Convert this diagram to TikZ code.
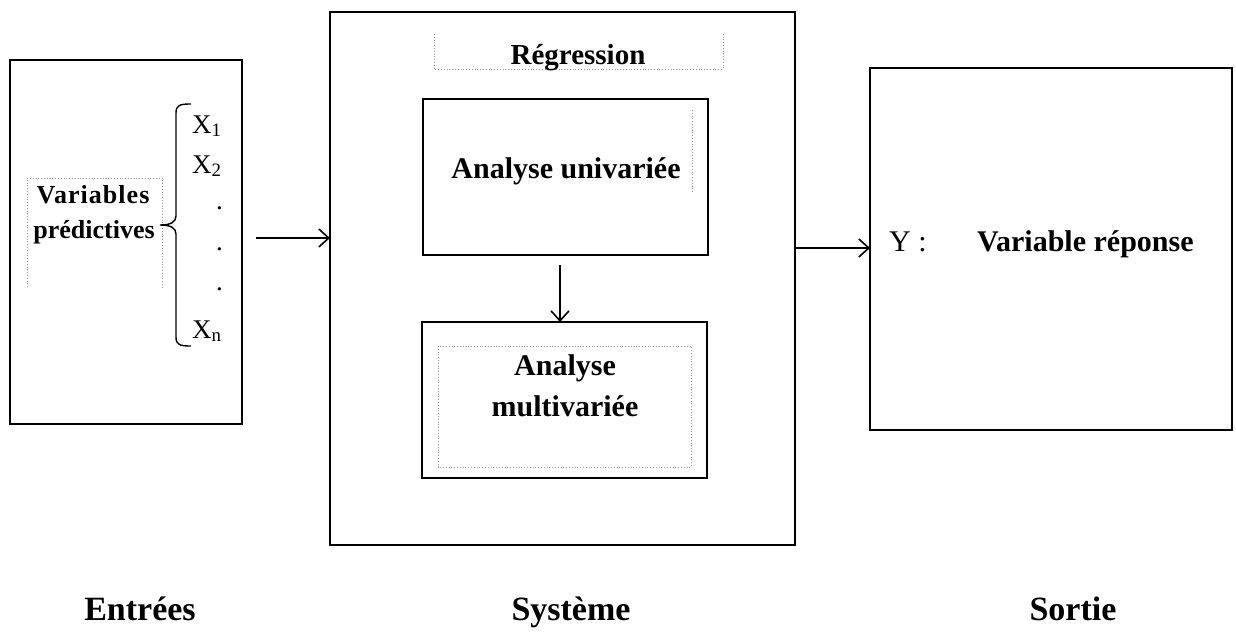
\documentclass[tikz,border=0pt]{standalone}
\usepackage{fontspec}
\setmainfont{Liberation Serif}
\usetikzlibrary{arrows.meta}
\begin{document}
\begin{tikzpicture}[x=1pt,y=-1pt,
  box/.style={draw=black,line width=1.5pt,inner sep=0pt,outer sep=0pt},
  inbox/.style={draw=black,line width=2.4pt,inner sep=0pt,outer sep=0pt},
  dotbox/.style={draw=black!40,dotted,line width=0.8pt},
  arr/.style={line width=1.6pt,-{Straight Barb[length=10pt,width=18pt,line width=1.6pt]}},
  bt/.style={font=\fontsize{30}{36}\selectfont\bfseries,inner sep=0pt,anchor=base},
  rt/.style={font=\fontsize{27}{30}\selectfont,inner sep=0pt,anchor=base west},
  lab/.style={font=\fontsize{34}{40}\selectfont\bfseries,inner sep=0pt,anchor=base}]
\useasboundingbox (0,0) rectangle (1236,632);
\fill[white] (0,0) rectangle (1236,632);
% main boxes
\node[box,minimum width=232pt,minimum height=364pt] (inp) at (126,242) {};
\node[box,minimum width=465pt,minimum height=533pt] (sys) at (562.5,278.5) {};
\node[box,minimum width=362pt,minimum height=362pt] (out) at (1051,249) {};
\node[inbox,minimum width=285pt,minimum height=156pt] (uni) at (565.5,177) {};
\node[inbox,minimum width=285pt,minimum height=156pt] (multi) at (564.5,400) {};
% dotted text frames
\draw[dotbox] (27,287) -- (27,178) -- (162,178) -- (162,287);
\draw[dotbox] (434,34) -- (434,69) -- (723,69) -- (723,34);
\draw[dotbox] (438,346) rectangle (691,467);
\draw[dotbox] (692,110) -- (692,192);
% texts
\node[bt,font=\fontsize{26}{30}\selectfont\bfseries\addfontfeature{LetterSpace=4}] (v1) at (93,203) {Variables};
\node[bt,font=\fontsize{26}{30}\selectfont\bfseries] (v2) at (94,238) {prédictives};
\node[bt,font=\fontsize{29}{34}\selectfont\bfseries] (reg) at (578,64) {Régression};
\node[bt] (ua) at (566,178) {Analyse univariée};
\node[bt] (ma1) at (565,375) {Analyse};
\node[bt] (ma2) at (565,416) {multivariée};
\node[rt,font=\fontsize{30}{34}\selectfont] (y) at (889,251) {Y :};
\node[bt,anchor=base west] (vr) at (977,251) {Variable réponse};
% X list
\node[rt] (x1) at (192,133) {X\textsubscript{1}};
\node[rt] (x2) at (192,173) {X\textsubscript{2}};
\node[rt] (d1) at (216,209) {.};
\node[rt] (d2) at (216,250) {.};
\node[rt] (d3) at (216,290) {.};
\node[rt] (xn) at (192,338) {X\textsubscript{n}};
% brace
\coordinate (bt) at (191,104);
\coordinate (bb) at (191,346);
\coordinate (tip) at (160,225);
\draw[line width=1.4pt] (bt) .. controls (180,104) and (176,105) .. (176,113) -- (176,216)
  .. controls (176,222) and (171,225) .. (tip)
  .. controls (171,225) and (176,228) .. (176,234) -- (176,337)
  .. controls (176,345) and (180,346) .. (bb);
% arrows
\coordinate (a1) at (256,238);
\draw[arr] (a1) -- (a1 -| sys.west);
\coordinate (a2) at (795,248);
\draw[arr] (a2) -- (a2 -| out.west);
\coordinate (a3) at (560,265);
\draw[arr] (a3) -- (a3 |- multi.north);
% bottom labels
\node[lab] (e) at (140,620) {Entrées};
\node[lab] (s) at (571,620) {Système};
\node[lab] (so) at (1073,620) {Sortie};
\end{tikzpicture}
\end{document}
